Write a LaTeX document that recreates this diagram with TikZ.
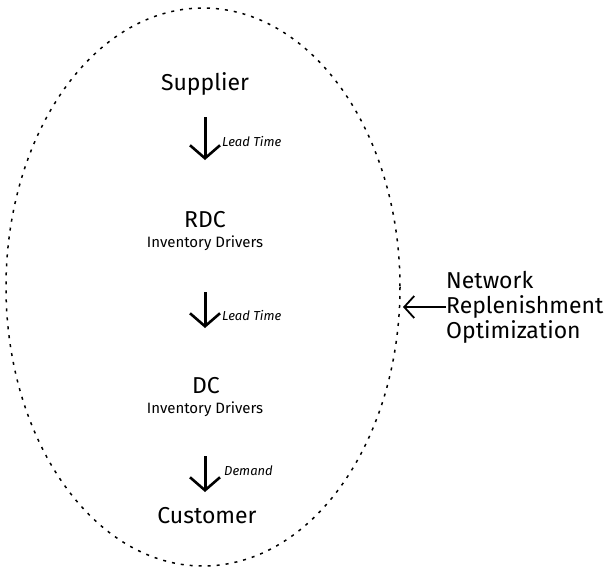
\documentclass[tikz,border=0pt]{standalone}
\usepackage{fontspec}
\setmainfont{Fira Sans}
\usetikzlibrary{arrows.meta}
\begin{document}
\begin{tikzpicture}[x=1pt,y=-1pt,
  stage/.style={font=\fontsize{23}{26}\selectfont, inner sep=0pt},
  sub/.style={font=\fontsize{15}{17}\selectfont, inner sep=0pt},
  flowlabel/.style={font=\itshape\fontsize{13}{15}\selectfont, inner sep=0pt, anchor=west},
  flow/.style={line width=3pt, -{Straight Barb[length=13pt,width=30pt,line width=2.6pt]}},
  boundary/.style={draw, line width=1.5pt, dash pattern=on 3pt off 6pt}]
\useasboundingbox (0,0) rectangle (613,574);
% network boundary
\draw[boundary] (203,287) ellipse [x radius=197, y radius=279];
% stages
\node[stage] (sup) at (205,84) {Supplier};
\node[stage] (rdc) at (205,220) {RDC};
\node[sub] (rdcsub) at (205,243) {Inventory Drivers};
\node[stage] (dc) at (206,386) {DC};
\node[sub] (dcsub) at (205,409) {Inventory Drivers};
\node[stage] (cus) at (207,516) {Customer};
% flow arrows between stages
\coordinate (a1s) at (205,117); \coordinate (a1e) at (205,160);
\coordinate (a2s) at (205,292); \coordinate (a2e) at (205,328);
\coordinate (a3s) at (205,456); \coordinate (a3e) at (205,492);
\draw[flow] (a1s) -- (a1e);
\draw[flow] (a2s) -- (a2e);
\draw[flow] (a3s) -- (a3e);
\node[flowlabel] (l1) at (222,142) {Lead Time};
\node[flowlabel] (l2) at (222,315) {Lead Time};
\node[flowlabel] (l3) at (224,471) {Demand};
% optimization label
\node[font=\fontsize{23}{25}\selectfont, align=left, anchor=west, inner sep=0pt] (opt) at (446,307)
  {Network\\Replenishment\\Optimization};
\coordinate (tip) at (403,307);
\draw[line width=2pt, -{Straight Barb[length=10pt,width=22pt,line width=1.8pt]}] (opt.west) -- (tip);
\end{tikzpicture}
\end{document}
